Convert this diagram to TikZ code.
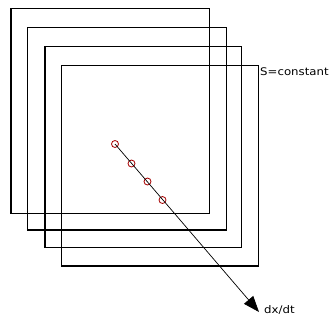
\documentclass[tikz,border=0pt]{standalone}
\usepackage{fontspec}
\setmainfont{DejaVu Sans}
\usetikzlibrary{arrows.meta}
\begin{document}
\begin{tikzpicture}[x=1pt,y=-1pt,
  sheet/.style={draw=black,line width=1.1pt},
  pt/.style={circle,draw=red!65!black,line width=0.8pt,inner sep=0pt,minimum size=7pt},
  lbl/.style={font=\fontsize{10.5}{12}\selectfont,inner sep=0pt,anchor=west,xscale=1.12},
  vec/.style={draw=black,line width=0.7pt,-{Triangle[length=16pt,width=12pt]}}]
\useasboundingbox (0,0) rectangle (331,325);
\draw[sheet] (11,8.3) rectangle (209.3,213.3);
\draw[sheet] (27.3,27.3) rectangle (226.3,230);
\draw[sheet] (45,46.7) rectangle (241.3,247.7);
\draw[sheet] (61.7,65.3) rectangle (258.3,266);
\node[lbl] (s) at (260,72) {S=constant};
\node[pt] (p1) at (115,144) {};
\node[pt] (p2) at (131.5,163.5) {};
\node[pt] (p3) at (147.5,181.5) {};
\node[pt] (p4) at (162.5,200) {};
\coordinate (tip) at (259,312);
\node[lbl] (d) at (264,310) {dx/dt};
\draw[vec] (p1.center) -- (tip);
\end{tikzpicture}
\end{document}
